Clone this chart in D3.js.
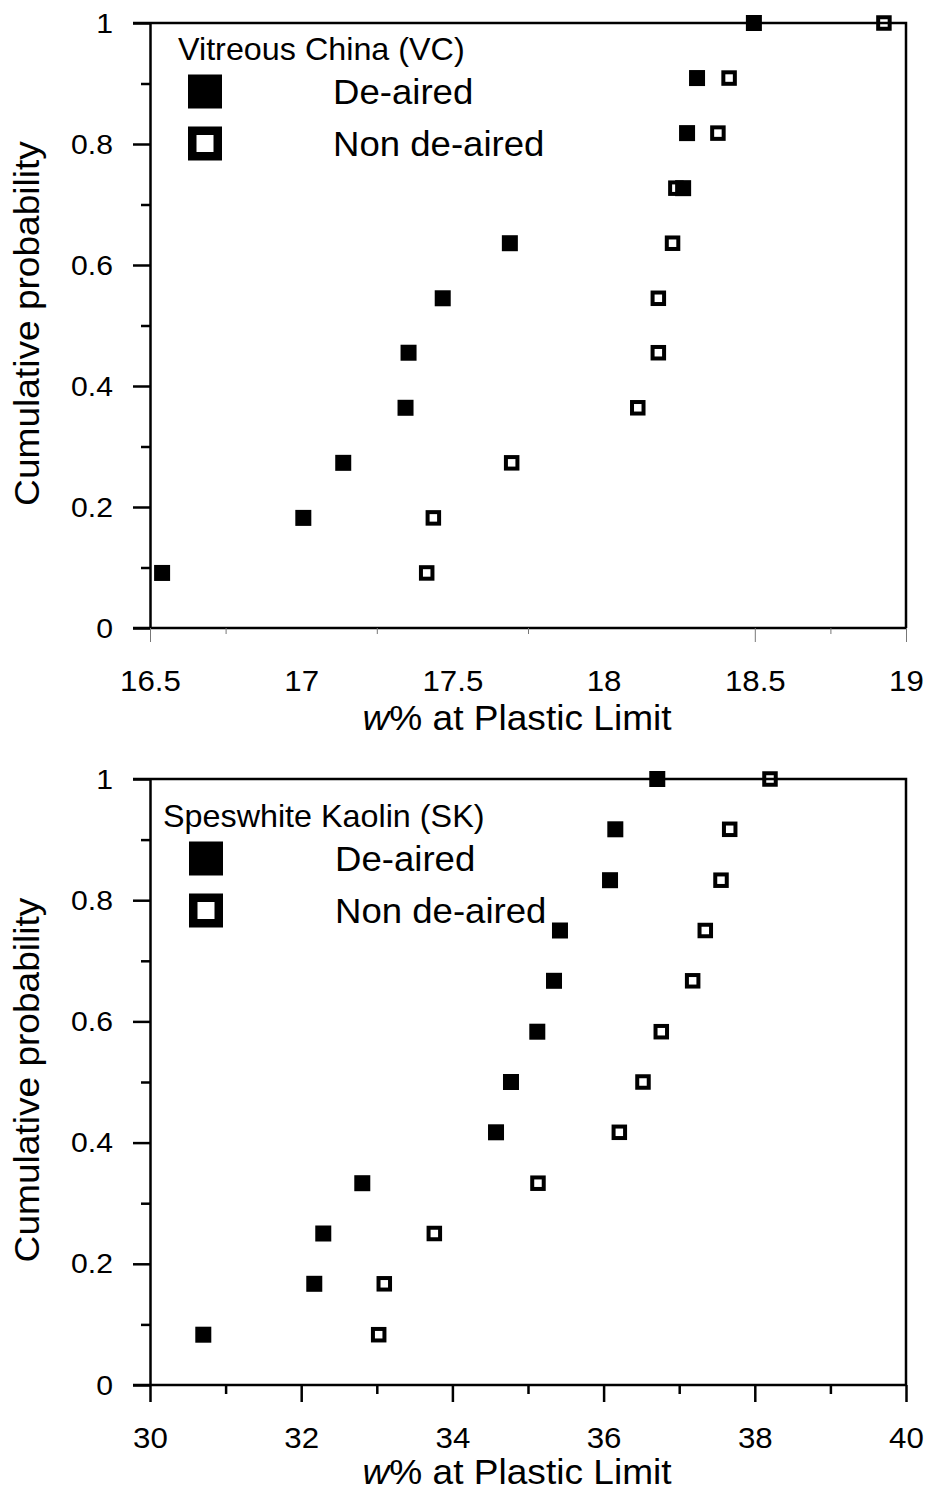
<!DOCTYPE html>
<html>
<head>
<meta charset="utf-8">
<script src="https://cdn.jsdelivr.net/npm/d3@7"></script>
<style>
  html, body { margin: 0; padding: 0; background: #fff; }
  svg { display: block; }
  text { font-family: "Liberation Sans", Arial, sans-serif; fill: #000; }
</style>
</head>
<body>
<svg id="chart" width="926" height="1493"></svg>
<script>
// Vitreous China (VC): w% at plastic limit, sorted, with cumulative probability
const vcProb       = [0.091, 0.182, 0.273, 0.364, 0.455, 0.545, 0.636, 0.727, 0.818, 0.909, 1.0];
const vcDeaired    = [16.54, 17.007, 17.139, 17.345, 17.355, 17.468, 17.69, 18.263, 18.276, 18.309, 18.497];
const vcNonDeaired = [17.415, 17.437, 17.696, 18.113, 18.181, 18.181, 18.228, 18.239, 18.378, 18.415, 18.927];

// Speswhite Kaolin (SK)
const skProb       = [0.083, 0.167, 0.25, 0.333, 0.417, 0.5, 0.583, 0.667, 0.75, 0.833, 0.917, 1.0];
const skDeaired    = [30.705, 32.173, 32.292, 32.808, 34.577, 34.775, 35.123, 35.344, 35.423, 36.085, 36.155, 36.71];
const skNonDeaired = [33.025, 33.099, 33.761, 35.132, 36.208, 36.521, 36.763, 37.178, 37.345, 37.553, 37.668, 38.201];

// Axis ticks
const yTicks       = [0, 0.2, 0.4, 0.6, 0.8, 1];
const yMinorTicks  = [0.1, 0.3, 0.5, 0.7, 0.9];
const vcXLabels    = [16.5, 17, 17.5, 18, 18.5, 19];
const vcXMajor     = [16.5, 18.5, 19];
const vcXMinor     = [16.75, 17.25, 17.75, 18.75];
const skXLabels    = [30, 32, 34, 36, 38, 40];
const skXMinor     = [31, 33, 35, 37, 39];

const seriesNames = ["De-aired", "Non de-aired"];

const STRETCH = 1.06; // glyphs are drawn slightly wide
const svg = d3.select("#chart");

function stretchText(sel) {
  // move x/y into a transform and widen glyphs
  sel.each(function () {
    const t = d3.select(this);
    const x = +t.attr("x") || 0, y = +t.attr("y") || 0;
    t.attr("x", 0).attr("y", 0)
     .attr("transform", `translate(${x},${y}) scale(${STRETCH},1)`);
  });
}

function panel(cfg) {
  const g = svg.append("g");
  const x = d3.scaleLinear().domain(cfg.xDomain).range([150, 906]);
  const y = d3.scaleLinear().domain([0, 1]).range([cfg.bottom, cfg.top]);

  // frame: top and right edges
  g.append("path")
    .attr("d", `M${x.range()[0] - 17},${y(1)}H${x.range()[1]}V${y(0)}`)
    .attr("fill", "none").attr("stroke", "#000").attr("stroke-width", 2.5);

  // y axis
  const yAxis = g.append("g").attr("transform", `translate(${x.range()[0]},0)`)
    .call(d3.axisLeft(y).tickValues(yTicks).tickSize(17).tickPadding(20)
      .tickFormat(d3.format("")).tickSizeOuter(0));
  yAxis.select(".domain").attr("stroke-width", 2.5);
  yAxis.selectAll(".tick line").attr("stroke-width", 2.5);
  yAxis.selectAll(".tick text").attr("font-size", 28.5).attr("font-family", null)
    .call(stretchText);
  g.append("g").attr("transform", `translate(${x.range()[0]},0)`)
    .call(d3.axisLeft(y).tickValues(yMinorTicks).tickSize(9).tickFormat("").tickSizeOuter(0))
    .call(s => s.select(".domain").remove())
    .selectAll(".tick line").attr("stroke-width", 2.5);

  // x axis line and labels
  const xAxis = g.append("g").attr("transform", `translate(0,${y(0)})`)
    .call(d3.axisBottom(x).tickValues(cfg.xLabels).tickSize(0).tickPadding(42)
      .tickFormat(d3.format("")).tickSizeOuter(0));
  xAxis.select(".domain").remove();
  xAxis.selectAll(".tick text").attr("font-size", 29.5).attr("font-family", null)
    .call(stretchText);
  g.append("line")
    .attr("x1", x.range()[0] - 17).attr("x2", x.range()[1])
    .attr("y1", y(0)).attr("y2", y(0))
    .attr("stroke", "#000").attr("stroke-width", 2.5);

  // x tick marks
  const tickGroup = (vals, len, color, w) =>
    g.append("g").attr("transform", `translate(0,${y(0)})`)
      .call(d3.axisBottom(x).tickValues(vals).tickSize(len).tickFormat("").tickSizeOuter(0))
      .call(s => s.select(".domain").remove())
      .selectAll(".tick line").attr("stroke", color).attr("stroke-width", w);
  tickGroup(cfg.xMajor, cfg.majorLen, cfg.tickColor, cfg.tickWidth);
  tickGroup(cfg.xMinor, cfg.minorLen, cfg.tickColor, cfg.tickWidth);

  // axis titles
  const xt = g.append("text")
    .attr("text-anchor", "middle").attr("font-size", 35)
    .attr("transform", `translate(517,${y(0) + cfg.xTitleGap}) scale(${STRETCH},1)`);
  xt.append("tspan").attr("font-style", "italic").text("w");
  xt.append("tspan").text("% at Plastic Limit");

  g.append("text")
    .attr("text-anchor", "middle").attr("font-size", 35)
    .attr("transform", `translate(39,${(y(0) + y(1)) / 2 - 2}) rotate(-90) scale(${STRETCH},1)`)
    .text("Cumulative probability");

  // data: open markers first, filled drawn over them
  const msz = 11.5;
  g.append("g").selectAll("rect")
    .data(cfg.nonDeaired.map((v, i) => [v, cfg.prob[i]]))
    .join("rect")
    .attr("x", d => x(d[0]) - msz / 2).attr("y", d => y(d[1]) - msz / 2)
    .attr("width", msz).attr("height", msz)
    .attr("fill", "none").attr("stroke", "#000").attr("stroke-width", 4);
  const fsz = 16;
  g.append("g").selectAll("rect")
    .data(cfg.deaired.map((v, i) => [v, cfg.prob[i]]))
    .join("rect")
    .attr("x", d => x(d[0]) - fsz / 2).attr("y", d => y(d[1]) - fsz / 2)
    .attr("width", fsz).attr("height", fsz)
    .attr("fill", "#000");

  // legend
  const lg = g.append("g");
  lg.append("text").attr("font-size", 30.5)
    .attr("transform", `translate(${cfg.legTitleX},${cfg.legY}) scale(${STRETCH},1)`)
    .text(cfg.title);
  seriesNames.forEach((name, i) => {
    const cy = cfg.legY + 31.5 + i * 52;
    const cx = cfg.legMarkX;
    if (i === 0) {
      lg.append("rect").attr("x", cx - 17).attr("y", cy - 17)
        .attr("width", 34).attr("height", 34).attr("fill", "#000");
    } else {
      lg.append("rect").attr("x", cx - 12.75).attr("y", cy - 12.75)
        .attr("width", 25.5).attr("height", 25.5)
        .attr("fill", "#fff").attr("stroke", "#000").attr("stroke-width", 8.5);
    }
    lg.append("text").attr("font-size", 34.5)
      .attr("transform", `translate(${cfg.legTextX},${cy + 12}) scale(${STRETCH},1)`)
      .text(name);
  });
}

panel({
  xDomain: [16.5, 19], top: 23, bottom: 628, xTitleGap: 102,
  xLabels: vcXLabels, xMajor: vcXMajor, xMinor: vcXMinor,
  majorLen: 14, minorLen: 6, tickColor: "#777", tickWidth: 1,
  prob: vcProb, deaired: vcDeaired, nonDeaired: vcNonDeaired,
  title: "Vitreous China (VC)", legTitleX: 178, legY: 60, legMarkX: 205, legTextX: 333
});

panel({
  xDomain: [30, 40], top: 779, bottom: 1385, xTitleGap: 99,
  xLabels: skXLabels, xMajor: skXLabels, xMinor: skXMinor,
  majorLen: 17, minorLen: 9, tickColor: "#000", tickWidth: 2.5,
  prob: skProb, deaired: skDeaired, nonDeaired: skNonDeaired,
  title: "Speswhite Kaolin (SK)", legTitleX: 163, legY: 827, legMarkX: 206, legTextX: 335
});
</script>
</body>
</html>
